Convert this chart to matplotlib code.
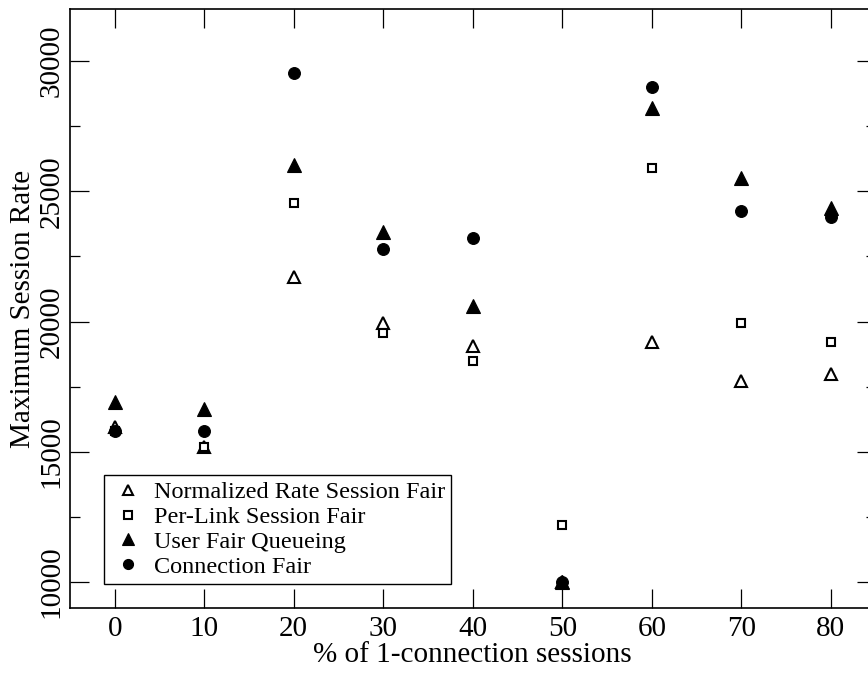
import matplotlib
matplotlib.use("Agg")
import matplotlib.pyplot as plt
from matplotlib.ticker import MultipleLocator

plt.rcParams['font.family'] = ['Liberation Serif', 'DejaVu Serif']

pct_single = [0, 10, 20, 30, 40, 50, 60, 70, 80]

normalized_rate = [15950, 15200, 21700, 19950, 19050, 10000, 19200, 17700, 18000]
per_link = [15800, 15200, 24550, 19550, 18500, 12200, 25900, 19950, 19200]
user_fair = [16900, 16650, 26000, 23450, 20600, 10000, 28200, 25500, 24350]
connection_fair = [15800, 15800, 29550, 22800, 23200, 10000, 29000, 24250, 24000]

labels = ["Normalized Rate Session Fair", "Per-Link Session Fair",
          "User Fair Queueing", "Connection Fair"]

fig = plt.figure(figsize=(8.68, 6.73), dpi=100)
ax = fig.add_axes([70 / 868, 1 - 608 / 673, 805.5 / 868, 599 / 673])

ax.plot(pct_single, normalized_rate, linestyle='none', marker='^', ms=8.5,
        mfc='white', mec='black', mew=1.5, label=labels[0])
ax.plot(pct_single, per_link, linestyle='none', marker='s', ms=6.3,
        mfc='white', mec='black', mew=1.5, label=labels[1])
ax.plot(pct_single, user_fair, linestyle='none', marker='^', ms=9.5,
        mfc='black', mec='black', mew=0.8, label=labels[2])
ax.plot(pct_single, connection_fair, linestyle='none', marker='o', ms=8.5,
        mfc='black', mec='black', mew=0.8, label=labels[3])

ax.set_xlim(-5, 85)
ax.set_ylim(9000, 32000)
ax.xaxis.set_major_locator(MultipleLocator(10))
ax.yaxis.set_major_locator(MultipleLocator(5000))
ax.yaxis.set_minor_locator(MultipleLocator(2500))

ax.tick_params(which='both', direction='in', top=True, right=True,
               width=0.9, labelsize=21, color='black')
ax.tick_params(which='major', length=14)
ax.tick_params(which='minor', length=7)
ax.tick_params(axis='x', which='major', pad=6)
ax.tick_params(axis='y', which='major', pad=4)
for lbl in ax.get_yticklabels():
    lbl.set_rotation(90)
    lbl.set_va('center')
for sp in ax.spines.values():
    sp.set_linewidth(1.2)

ax.set_xlabel("% of 1-connection sessions", fontsize=21, labelpad=0)
ax.set_ylabel("Maximum Session Rate", fontsize=21, labelpad=2)

leg = ax.legend(loc='lower left', bbox_to_anchor=(34 / 805.5, (608 - 584) / 599),
                fontsize=17.5, frameon=True, fancybox=False, edgecolor='black',
                framealpha=1, borderpad=0.25, handletextpad=0.3,
                labelspacing=0.12, handlelength=1.5, borderaxespad=0,
                markerscale=0.85)
leg.get_frame().set_linewidth(1)

fig.savefig("out.png", dpi=100)
